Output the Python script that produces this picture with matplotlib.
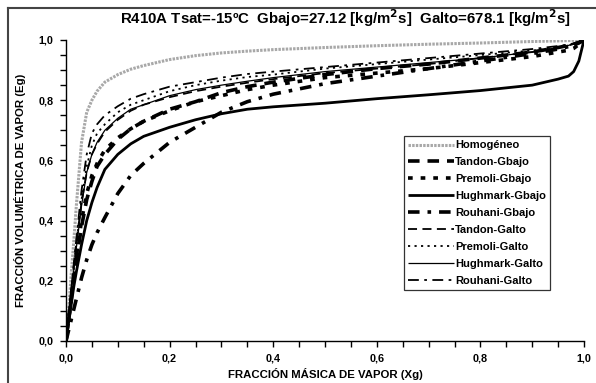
import matplotlib
matplotlib.use("Agg")
import matplotlib.pyplot as plt
from matplotlib.lines import Line2D
from matplotlib.ticker import MultipleLocator, FuncFormatter

plt.rcParams['font.family'] = ['Liberation Sans', 'DejaVu Sans']

# Vapour quality (mass fraction) grid
xg = [0.0, 0.005, 0.01, 0.015, 0.02, 0.03, 0.04, 0.05, 0.06, 0.075, 0.1, 0.125,
      0.15, 0.2, 0.25, 0.3, 0.35, 0.4, 0.5, 0.6, 0.7, 0.8, 0.9, 0.95, 0.97, 0.98, 0.99, 1.0]

homogeneo = [0.0, 0.10, 0.22, 0.33, 0.45, 0.66, 0.76, 0.80, 0.83, 0.86, 0.885, 0.903,
             0.915, 0.935, 0.948, 0.957, 0.963, 0.968, 0.975, 0.981, 0.986, 0.990, 0.995, 0.997, 0.998, 0.999, 0.999, 1.0]

tandon_gbajo = [0.0, 0.07, 0.14, 0.21, 0.27, 0.38, 0.47, 0.53, 0.58, 0.62, 0.67, 0.705,
                0.73, 0.77, 0.795, 0.825, 0.845, 0.86, 0.885, 0.905, 0.92, 0.94, 0.96, 0.975, 0.982, 0.986, 0.992, 1.0]
premoli_gbajo = [0.0, 0.07, 0.14, 0.21, 0.28, 0.40, 0.49, 0.55, 0.59, 0.635, 0.675, 0.705,
                 0.73, 0.765, 0.795, 0.815, 0.835, 0.85, 0.875, 0.89, 0.905, 0.925, 0.945, 0.96, 0.966, 0.972, 0.985, 1.0]
hughmark_gbajo = [0.0, 0.06, 0.12, 0.18, 0.23, 0.32, 0.40, 0.46, 0.51, 0.57, 0.62, 0.655,
                  0.68, 0.71, 0.735, 0.755, 0.77, 0.778, 0.79, 0.805, 0.818, 0.832, 0.85, 0.87, 0.88, 0.895, 0.93, 1.0]
rouhani_gbajo = [0.0, 0.035, 0.07, 0.105, 0.14, 0.21, 0.27, 0.32, 0.36, 0.41, 0.49, 0.55,
                 0.59, 0.66, 0.71, 0.76, 0.795, 0.82, 0.855, 0.88, 0.905, 0.93, 0.955, 0.97, 0.978, 0.983, 0.99, 1.0]

tandon_galto = [0.0, 0.085, 0.17, 0.25, 0.33, 0.46, 0.56, 0.62, 0.655, 0.695, 0.735, 0.765,
                0.785, 0.81, 0.83, 0.845, 0.858, 0.87, 0.89, 0.905, 0.92, 0.94, 0.96, 0.975, 0.982, 0.987, 0.993, 1.0]
premoli_galto = [0.0, 0.08, 0.16, 0.24, 0.32, 0.47, 0.58, 0.65, 0.69, 0.72, 0.76, 0.785,
                 0.80, 0.83, 0.85, 0.865, 0.877, 0.885, 0.905, 0.92, 0.935, 0.95, 0.965, 0.975, 0.982, 0.987, 0.993, 1.0]
hughmark_galto = [0.0, 0.08, 0.16, 0.235, 0.31, 0.45, 0.56, 0.62, 0.66, 0.70, 0.74, 0.77,
                  0.785, 0.815, 0.835, 0.85, 0.863, 0.875, 0.895, 0.91, 0.925, 0.94, 0.96, 0.975, 0.982, 0.987, 0.993, 1.0]
rouhani_galto = [0.0, 0.085, 0.17, 0.255, 0.34, 0.50, 0.62, 0.69, 0.72, 0.75, 0.78, 0.805,
                 0.82, 0.845, 0.86, 0.875, 0.887, 0.895, 0.91, 0.925, 0.94, 0.955, 0.97, 0.98, 0.985, 0.989, 0.994, 1.0]

series = [
    ("Homogéneo", homogeneo, dict(color="#a8a8a8", lw=2.2, ls=(0, (0.8, 0.4)))),
    ("Tandon-Gbajo", tandon_gbajo, dict(color="black", lw=2.6, ls=(0, (3.2, 2.2)))),
    ("Premoli-Gbajo", premoli_gbajo, dict(color="black", lw=2.6, ls=(0, (1.3, 2.2)))),
    ("Hughmark-Gbajo", hughmark_gbajo, dict(color="black", lw=2.0, ls="-")),
    ("Rouhani-Gbajo", rouhani_gbajo, dict(color="black", lw=2.6, ls=(0, (3.2, 2.2, 1.0, 2.2)))),
    ("Tandon-Galto", tandon_galto, dict(color="black", lw=1.3, ls=(0, (5, 3)))),
    ("Premoli-Galto", premoli_galto, dict(color="black", lw=1.3, ls=(0, (1.2, 2.4)))),
    ("Hughmark-Galto", hughmark_galto, dict(color="black", lw=0.9, ls="-")),
    ("Rouhani-Galto", rouhani_galto, dict(color="black", lw=1.3, ls=(0, (6, 3, 1.5, 3)))),
]

fig = plt.figure(figsize=(5.96, 3.83), dpi=100)
ax = fig.add_axes([66 / 596, 1 - 341 / 383, 518 / 596, 301 / 383])

for label, vals, style in series:
    ax.plot(xg, vals, label=label, solid_capstyle="butt", dash_capstyle="butt", **style)

ax.set_xlim(0, 1)
ax.set_ylim(0, 1)
for side in ("top", "right"):
    ax.spines[side].set_visible(False)
for side in ("left", "bottom"):
    ax.spines[side].set_linewidth(1.0)

comma = FuncFormatter(lambda v, p: f"{v:.1f}".replace(".", ","))
ax.xaxis.set_major_locator(MultipleLocator(0.2))
ax.yaxis.set_major_locator(MultipleLocator(0.2))
ax.xaxis.set_minor_locator(MultipleLocator(0.05))
ax.yaxis.set_minor_locator(MultipleLocator(0.05))
ax.xaxis.set_major_formatter(comma)
ax.yaxis.set_major_formatter(comma)
ax.tick_params(which="both", direction="out", length=4, width=1.0, labelsize=7.8, pad=5)
for lab in ax.get_xticklabels() + ax.get_yticklabels():
    lab.set_fontweight("bold")

ax.set_xlabel("FRACCIÓN MÁSICA DE VAPOR (Xg)", fontsize=8.2, fontweight="bold", labelpad=3)
ax.set_ylabel("FRACCIÓN VOLUMÉTRICA DE VAPOR (Eg)", fontsize=8.2, fontweight="bold", labelpad=9)

fig.text(345 / 596, 1 - 18 / 383,
         "R410A Tsat=-15ºC  Gbajo=27.12 [kg/m$^\\mathbf{2}$s]  Galto=678.1 [kg/m$^\\mathbf{2}$s]",
         ha="center", va="center", fontsize=10.8, fontweight="bold")

leg = ax.legend(loc="upper left", bbox_to_anchor=((404 - 66) / 518, (341 - 136) / 301),
                prop=dict(size=8.0, weight="bold"), frameon=True, fancybox=False,
                edgecolor="black", handlelength=4.1, handletextpad=0.1,
                labelspacing=0.62, borderpad=0.4, borderaxespad=0.0)
leg.get_frame().set_linewidth(0.9)

# outer chart frame (left and top edges)
fx, fy = 8 / 596, 1 - 8 / 383
fig.add_artist(Line2D([fx, fx], [0, fy], transform=fig.transFigure, color="#444444", lw=1.5))
fig.add_artist(Line2D([fx, 1], [fy, fy], transform=fig.transFigure, color="#444444", lw=1.5))

fig.savefig("out.png", dpi=100)
